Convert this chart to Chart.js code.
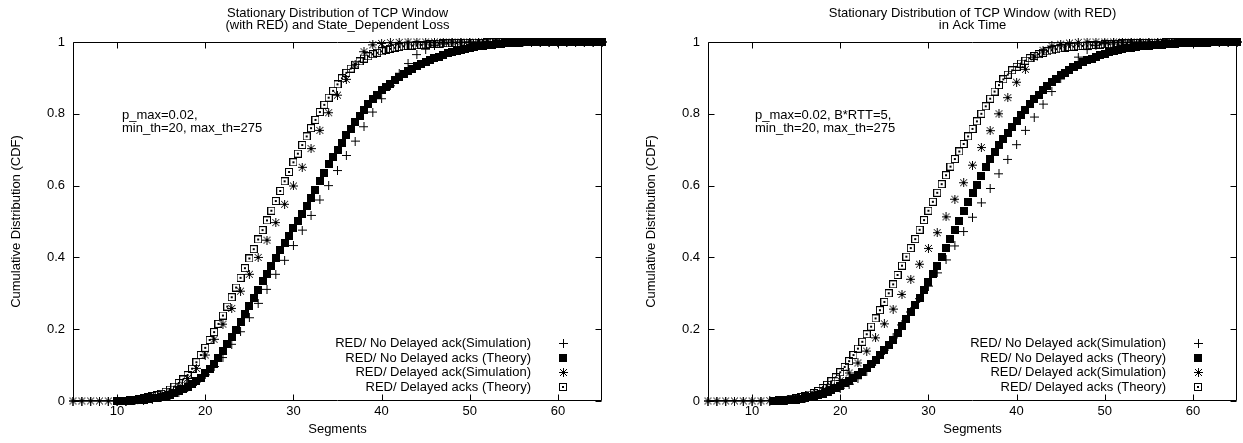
<!DOCTYPE html>
<html>
<head>
<meta charset="utf-8">
<script src="https://cdn.jsdelivr.net/npm/chart.js@4/dist/chart.umd.min.js"></script>
<style>
  html, body { margin: 0; padding: 0; background: #fff; }
  #wrap { position: relative; width: 1243px; height: 443px; }
  .panel { position: absolute; top: 0; height: 443px; }
  #p1 { left: 0; width: 621px; }
  #p2 { left: 621px; width: 622px; }
</style>
</head>
<body>
<div id="wrap">
  <div class="panel" id="p1"><canvas id="c1"></canvas></div>
  <div class="panel" id="p2"><canvas id="c2"></canvas></div>
</div>
<script>
// Window sizes (segments) where the simulated CDFs are sampled
const simSegments = [5,6,7,8,9,10,11,12,13,14,15,16,17,18,19,20,21,22,23,24,25,26,27,28,29,30,31,32,33,34,35,36,37,38,39,40,41,42,43,44,45,46,47,48,49,50,51,52,53,54,55,56,57,58,59,60,61,62,63,64,65];

// Window sizes where the theoretical CDFs are evaluated
const theorySegmentsLoss = [10,10.5,11,11.5,12,12.5,13,13.5,14,14.5,15,15.5,16,16.5,17,17.5,18,18.5,19,19.5,20,20.5,21,21.5,22,22.5,23,23.5,24,24.5,25,25.5,26,26.5,27,27.5,28,28.5,29,29.5,30,30.5,31,31.5,32,32.5,33,33.5,34,34.5,35,35.5,36,36.5,37,37.5,38,38.5,39,39.5,40,40.5,41,41.5,42,42.5,43,43.5,44,44.5,45,45.5,46,46.5,47,47.5,48,48.5,49,49.5,50,50.5,51,51.5,52,52.5,53,53.5,54,54.5,55,55.5,56,56.5,57,57.5,58,58.5,59,59.5,60,60.5,61,61.5,62,62.5,63,63.5,64,64.5,65];
const theorySegmentsAck = [12.5,13,13.5,14,14.5,15,15.5,16,16.5,17,17.5,18,18.5,19,19.5,20,20.5,21,21.5,22,22.5,23,23.5,24,24.5,25,25.5,26,26.5,27,27.5,28,28.5,29,29.5,30,30.5,31,31.5,32,32.5,33,33.5,34,34.5,35,35.5,36,36.5,37,37.5,38,38.5,39,39.5,40,40.5,41,41.5,42,42.5,43,43.5,44,44.5,45,45.5,46,46.5,47,47.5,48,48.5,49,49.5,50,50.5,51,51.5,52,52.5,53,53.5,54,54.5,55,55.5,56,56.5,57,57.5,58,58.5,59,59.5,60,60.5,61,61.5,62,62.5,63,63.5,64,64.5,65];

const segmentTicks = [10, 20, 30, 40, 50, 60];
const cdfTicks = [0, 0.2, 0.4, 0.6, 0.8, 1];
const cdfTickLabels = ['0', '0.2', '0.4', '0.6', '0.8', '1'];

const seriesNames = [
  'RED/ No Delayed ack(Simulation)',
  'RED/ No Delayed acks (Theory)',
  'RED/ Delayed ack(Simulation)',
  'RED/ Delayed acks (Theory)'
];

// ---- Left panel: RED with state-dependent loss ----
const lossNoDelSim = [0,0,0,0,0,0,0,0.001,0.002,0.005,0.01,0.016,0.025,0.037,0.053,0.073,0.096,0.121,0.158,0.193,0.232,0.272,0.311,0.353,0.392,0.433,0.476,0.517,0.56,0.6,0.642,0.684,0.724,0.764,0.805,0.842,0.878,0.913,0.94,0.965,0.98,0.99,0.995,0.998,0.999,1,1,1,1,1,1,1,1,1,1,1,1,1,1,1,1];
const lossNoDelTheory = [
  0,0,0.001,0.001,0.002,0.003,0.004,0.005,0.007,0.009,
  0.011,0.014,0.018,0.022,0.027,0.033,0.04,0.047,0.055,0.065,
  0.077,0.09,0.104,0.12,0.138,0.158,0.178,0.199,0.22,0.242,
  0.264,0.287,0.31,0.333,0.354,0.376,0.398,0.42,0.441,0.461,
  0.481,0.501,0.522,0.543,0.565,0.587,0.612,0.636,0.66,0.68,
  0.7,0.72,0.74,0.758,0.776,0.794,0.81,0.826,0.84,0.853,
  0.865,0.875,0.884,0.893,0.902,0.91,0.918,0.925,0.932,0.938,
  0.944,0.95,0.955,0.959,0.964,0.968,0.972,0.975,0.978,0.981,
  0.984,0.986,0.988,0.99,0.992,0.993,0.994,0.995,0.996,0.997,
  0.998,0.998,0.999,0.999,0.999,1,1,1,1,1,
  1,1,1,1,1,1,1,1,1,1,
  1];
const lossDelSim = [0,0,0,0,0,0,0,0.001,0.003,0.007,0.014,0.025,0.041,0.063,0.091,0.128,0.172,0.214,0.258,0.306,0.353,0.4,0.448,0.497,0.548,0.599,0.651,0.703,0.754,0.803,0.852,0.896,0.938,0.973,0.992,0.996,0.998,0.999,1,1,1,1,1,1,1,1,1,1,1,1,1,1,1,1,1,1,1,1,1,1,1];
const lossDelTheory = [
  0,0.001,0.001,0.002,0.003,0.005,0.007,0.01,0.013,0.016,
  0.02,0.026,0.032,0.04,0.05,0.06,0.072,0.09,0.108,0.128,
  0.148,0.17,0.192,0.215,0.238,0.263,0.289,0.316,0.343,0.37,
  0.397,0.423,0.45,0.476,0.503,0.53,0.557,0.585,0.612,0.638,
  0.665,0.689,0.713,0.737,0.76,0.783,0.805,0.825,0.845,0.864,
  0.882,0.899,0.914,0.926,0.937,0.946,0.954,0.96,0.966,0.97,
  0.974,0.978,0.981,0.984,0.986,0.988,0.989,0.99,0.991,0.992,
  0.993,0.994,0.995,0.995,0.996,0.996,0.997,0.997,0.997,0.998,
  0.998,0.998,0.998,0.998,0.999,0.999,0.999,0.999,0.999,0.999,
  0.999,0.999,1,1,1,1,1,1,1,1,
  1,1,1,1,1,1,1,1,1,1,
  1];

// ---- Right panel: RED in ack time ----
const ackNoDelSim = [0,0,0,0,0,0,0,0,0.001,0.002,0.004,0.008,0.013,0.02,0.027,0.036,0.047,0.062,0.083,0.11,0.142,0.176,0.212,0.248,0.285,0.32,0.357,0.393,0.432,0.472,0.512,0.552,0.592,0.633,0.673,0.714,0.754,0.791,0.827,0.862,0.897,0.928,0.958,0.979,0.99,0.996,0.998,0.999,1,1,1,1,1,1,1,1,1,1,1,1,1];
const ackNoDelTheory = [
  0,
  0.001,0.001,0.002,0.003,0.004,0.006,0.008,0.01,0.013,0.016,
  0.02,0.025,0.03,0.036,0.043,0.05,0.057,0.065,0.073,0.082,
  0.092,0.103,0.115,0.128,0.141,0.155,0.17,0.189,0.208,0.228,
  0.248,0.268,0.288,0.309,0.331,0.353,0.376,0.4,0.425,0.45,
  0.476,0.502,0.528,0.553,0.578,0.603,0.627,0.651,0.674,0.694,
  0.713,0.73,0.746,0.762,0.779,0.796,0.811,0.826,0.84,0.853,
  0.866,0.877,0.888,0.898,0.907,0.915,0.923,0.93,0.937,0.943,
  0.949,0.954,0.959,0.963,0.967,0.971,0.974,0.977,0.98,0.982,
  0.984,0.986,0.988,0.989,0.99,0.991,0.992,0.993,0.994,0.995,
  0.995,0.996,0.996,0.997,0.997,0.998,0.998,0.998,0.999,0.999,
  0.999,0.999,1,1,1];
const ackDelSim = [0,0,0,0,0,0,0,0.001,0.002,0.004,0.007,0.012,0.019,0.029,0.041,0.057,0.078,0.106,0.139,0.176,0.215,0.256,0.297,0.339,0.381,0.425,0.469,0.513,0.562,0.608,0.657,0.706,0.753,0.8,0.845,0.888,0.924,0.958,0.977,0.989,0.994,0.997,0.999,1,1,1,1,1,1,1,1,1,1,1,1,1,1,1,1,1,1];
const ackDelTheory = [
  0.001,
  0.002,0.003,0.004,0.006,0.008,0.011,0.014,0.018,0.022,0.028,
  0.036,0.045,0.055,0.066,0.08,0.095,0.111,0.128,0.146,0.165,
  0.186,0.207,0.23,0.253,0.276,0.3,0.325,0.351,0.377,0.402,
  0.426,0.451,0.477,0.504,0.53,0.555,0.58,0.604,0.629,0.653,
  0.674,0.695,0.716,0.737,0.758,0.779,0.8,0.821,0.842,0.862,
  0.88,0.896,0.909,0.921,0.931,0.94,0.948,0.955,0.961,0.966,
  0.97,0.974,0.977,0.98,0.982,0.984,0.986,0.987,0.988,0.989,
  0.99,0.991,0.992,0.993,0.994,0.994,0.995,0.995,0.996,0.996,
  0.996,0.997,0.997,0.997,0.998,0.998,0.998,0.998,0.999,0.999,
  0.999,0.999,0.999,0.999,1,1,1,1,1,1,
  1,1,1,1,1];

const FONT_FAMILY = '"Liberation Sans", Arial, Helvetica, sans-serif';
const FONT_SIZE = 13;

// gnuplot-style point symbols drawn once onto small canvases
function makeSymbol(kind) {
  const c = document.createElement('canvas');
  const s = (kind === 'star' || kind === 'plus') ? 9 : 8;
  c.width = s; c.height = s;
  const g = c.getContext('2d');
  g.fillStyle = '#000';
  g.strokeStyle = '#000';
  g.lineWidth = 1;
  const m = Math.floor(s / 2);
  if (kind === 'plus') {
    g.fillRect(m, 0, 1, s);
    g.fillRect(0, m, s, 1);
  } else if (kind === 'box') {
    g.fillRect(0, 0, s, s);
  } else if (kind === 'star') {
    g.fillRect(m, 0, 1, s);
    g.fillRect(0, m, s, 1);
    g.beginPath();
    g.moveTo(1, 1); g.lineTo(s - 1, s - 1);
    g.moveTo(s - 1, 1); g.lineTo(1, s - 1);
    g.stroke();
  } else if (kind === 'openbox') {
    g.strokeRect(0.5, 0.5, s - 1, s - 1);
    g.fillRect(m - 1, m - 1, 2, 2);
  }
  return c;
}
const symbols = [makeSymbol('plus'), makeSymbol('box'), makeSymbol('star'), makeSymbol('openbox')];

function pairs(xs, ys) {
  return xs.map((x, i) => ({ x: x, y: ys[i] }));
}

// Frame with inward ticks, titles, parameter note and key
const gnuplotFrame = {
  id: 'gnuplotFrame',
  afterDatasetsDraw(chart, args, opts) {
    const { ctx, chartArea: a, scales } = chart;
    const L = Math.round(a.left) + 0.5, R = Math.round(a.right) - 0.5;
    const T = Math.round(a.top) + 0.5, B = Math.round(a.bottom) - 0.5;
    const tl = 6;
    ctx.save();
    ctx.strokeStyle = '#000';
    ctx.lineWidth = 1;
    ctx.beginPath();
    ctx.rect(L, T, R - L, B - T);
    scales.x.ticks.forEach(t => {
      const px = Math.round(scales.x.getPixelForValue(t.value)) + 0.5;
      ctx.moveTo(px, B); ctx.lineTo(px, B - tl);
      ctx.moveTo(px, T); ctx.lineTo(px, T + tl);
    });
    scales.y.ticks.forEach(t => {
      const py = Math.round(scales.y.getPixelForValue(t.value)) + 0.5;
      ctx.moveTo(L, py); ctx.lineTo(L + tl, py);
      ctx.moveTo(R, py); ctx.lineTo(R - tl, py);
    });
    ctx.stroke();
    ctx.restore();
  },
  afterDraw(chart, args, opts) {
    const { ctx, chartArea: a } = chart;
    ctx.save();
    ctx.fillStyle = '#000';
    ctx.font = FONT_SIZE + 'px ' + FONT_FAMILY;
    ctx.textBaseline = 'middle';

    // title, centred over the plot
    ctx.textAlign = 'center';
    const cx = (a.left + a.right) / 2;
    opts.title.forEach((line, i) => ctx.fillText(line, cx, opts.titleY + i * opts.titleGap));

    // parameter note
    ctx.textAlign = 'left';
    opts.note.forEach((line, i) => ctx.fillText(line, a.left + opts.noteX, opts.noteY + i * opts.noteGap));

    // key
    ctx.textAlign = 'right';
    chart.data.datasets.forEach((ds, i) => {
      const y = a.bottom - opts.keyRows[i];
      ctx.fillText(ds.label, a.right - opts.keyTextRight, y);
      const img = ds.pointStyle;
      ctx.drawImage(img, Math.round(a.right - opts.keySymbol - img.width / 2), Math.round(y - img.height / 2));
    });
    ctx.restore();
  }
};

function buildChart(canvasId, series, frame, padding) {
  const datasets = series.map((s, i) => ({
    label: seriesNames[i],
    data: pairs(s.x, s.y),
    showLine: false,
    pointStyle: symbols[i],
    pointRadius: 4,
    pointHoverRadius: 4,
    borderColor: '#000',
    backgroundColor: '#000',
    clip: false,
    order: 4 - i
  }));

  return new Chart(document.getElementById(canvasId), {
    type: 'scatter',
    data: { datasets },
    options: {
      responsive: true,
      maintainAspectRatio: false,
      animation: false,
      devicePixelRatio: 1,
      layout: { padding },
      events: [],
      plugins: {
        legend: { display: false },
        tooltip: { enabled: false },
        title: { display: false },
        gnuplotFrame: frame
      },
      scales: {
        x: {
          type: 'linear',
          min: 5,
          max: 65,
          afterBuildTicks: sc => { sc.ticks = segmentTicks.map(v => ({ value: v })); },
          afterFit: sc => { sc.height = 42; },
          grid: { display: false, drawTicks: false, drawOnChartArea: false },
          border: { display: false },
          ticks: {
            color: '#000',
            padding: 3,
            maxRotation: 0,
            callback: v => String(v),
            font: { family: FONT_FAMILY, size: FONT_SIZE }
          },
          title: {
            display: true,
            text: 'Segments',
            color: '#000',
            padding: { top: 0, bottom: 6 },
            font: { family: FONT_FAMILY, size: FONT_SIZE }
          }
        },
        y: {
          type: 'linear',
          min: 0,
          max: 1,
          afterBuildTicks: sc => { sc.ticks = cdfTicks.map(v => ({ value: v })); },
          afterFit: sc => { sc.width = 73; },
          grid: { display: false, drawTicks: false, drawOnChartArea: false },
          border: { display: false },
          ticks: {
            color: '#000',
            padding: 8,
            callback: v => cdfTickLabels[cdfTicks.indexOf(v)],
            font: { family: FONT_FAMILY, size: FONT_SIZE }
          },
          title: {
            display: true,
            text: 'Cumulative Distribution (CDF)',
            color: '#000',
            padding: { top: 9, bottom: 0 },
            font: { family: FONT_FAMILY, size: FONT_SIZE }
          }
        }
      }
    },
    plugins: [gnuplotFrame]
  });
}

const keyLayout = { keyRows: [58, 43, 28.5, 14], keyTextRight: 71, keySymbol: 39 };

buildChart('c1', [
  { x: simSegments, y: lossNoDelSim },
  { x: theorySegmentsLoss, y: lossNoDelTheory },
  { x: simSegments, y: lossDelSim },
  { x: theorySegmentsLoss, y: lossDelTheory }
], Object.assign({
  title: ['Stationary Distribution of TCP Window', '(with RED) and State_Dependent Loss'],
  titleY: 13, titleGap: 12,
  note: ['p_max=0.02,', 'min_th=20, max_th=275'],
  noteX: 49, noteY: 115, noteGap: 13.3
}, keyLayout), { left: 0, top: 42, right: 19, bottom: 0 });

buildChart('c2', [
  { x: simSegments, y: ackNoDelSim },
  { x: theorySegmentsAck, y: ackNoDelTheory },
  { x: simSegments, y: ackDelSim },
  { x: theorySegmentsAck, y: ackDelTheory }
], Object.assign({
  title: ['Stationary Distribution of TCP Window (with RED)', 'in Ack Time'],
  titleY: 13, titleGap: 12,
  note: ['p_max=0.02, B*RTT=5,', 'min_th=20, max_th=275'],
  noteX: 47, noteY: 115, noteGap: 13.3
}, keyLayout), { left: 14, top: 42, right: 6, bottom: 0 });
</script>
</body>
</html>
